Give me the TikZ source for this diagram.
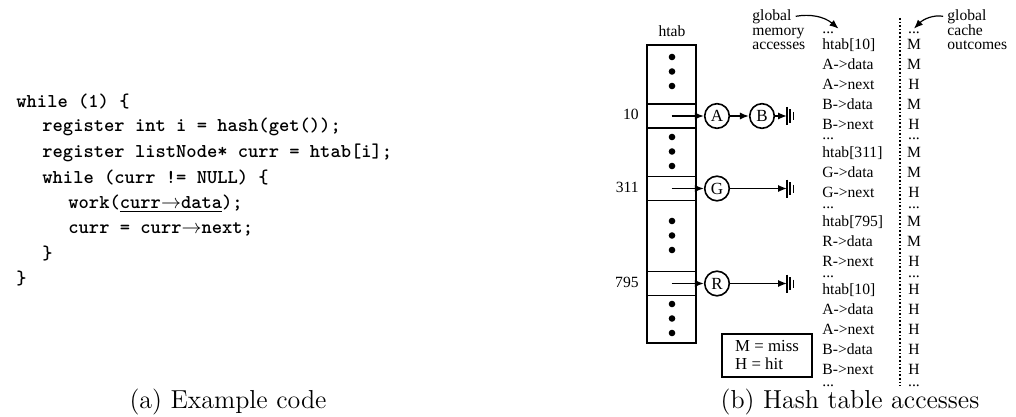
\documentclass[tikz,border=0pt]{standalone}
\usepackage{fontspec}
\newfontfamily\timesfont{Liberation Serif}
\usetikzlibrary{arrows.meta}
\newcommand\codefont{\ttfamily\bfseries\fontsize{9.8}{12}\selectfont}

\begin{document}
\begin{tikzpicture}[
    x=0.5pt, y=-0.5pt,
    >={Latex[length=4.5pt,width=3.6pt]},
    code/.style={anchor=base west,inner sep=0pt,font=\codefont},
    lbl/.style={inner sep=0pt,text height=5.3pt,text depth=1.5pt,
                font=\timesfont\fontsize{7.8}{7.8}\selectfont},
    cell/.style={draw,line width=0.8pt,minimum width=24.5pt,
                 minimum height=12pt,inner sep=0pt},
    elem/.style={circle,draw,line width=0.8pt,minimum size=12.3pt,
                 inner sep=0pt,font=\timesfont\fontsize{8.5}{8.5}\selectfont},
    ptr/.style={->,line width=0.8pt},
    nilbar/.pic={
      \draw[line width=0.8pt] (0,-9) -- (0,9);
      \draw[line width=0.6pt] (3,-6.5) -- (3,6.5);
      \draw[line width=0.5pt] (6,-4) -- (6,4);
    },
  ]
    \useasboundingbox (0,0) rectangle (1016,417);

    % Code listing
    \node[code] (ln1) at (16,107) {while (1) \{};
    \node[code] (ln2) at (42,132) {register int i = hash(get());};
    \node[code] (ln3) at (42,157) {register listNode* curr = htab[i];};
    \node[code] (ln4) at (42,183) {while (curr != NULL) \{};
    \node[code] (ln5) at (68,208) {work(\underline{curr$\rightarrow$data});};
    \node[code] (ln6) at (68,233) {curr = curr$\rightarrow$next;};
    \node[code] (ln7) at (42,259) {\}};
    \node[code] (ln8) at (16,284) {\}};

    % Hash table
    \node[lbl] (htablbl) at (672,33) {htab};
    \node[cell,minimum height=149pt] (tab) at (671.5,194) {};
    \node[cell] (row10)  at (671.5,116)   {};
    \node[cell] (row311) at (671.5,188.5) {};
    \node[cell] (row795) at (671.5,283.5) {};
    \foreach \y in {57,71.5,86,137,151.5,166,221,235.5,250,304,318.5,333}
      \fill (672,\y) circle (1.65pt);

    % Bucket indices
    \node[lbl,anchor=east] (idx10)  at (639,116)   {10};
    \node[lbl,anchor=east] (idx311) at (639,188.5) {311};
    \node[lbl,anchor=east] (idx795) at (639,283.5) {795};

    % Chains
    \node[elem] (A) at (717,116)   {A};
    \node[elem] (B) at (762,116)   {B};
    \node[elem] (G) at (717,188.5) {G};
    \node[elem] (R) at (717,283.5) {R};
    \coordinate (nilB) at (787,116);
    \coordinate (nilG) at (787,188.5);
    \coordinate (nilR) at (787,283.5);

    \draw[ptr] (row10.center) -- (A);
    \draw[ptr] (A) -- (B);
    \draw[ptr] (B) -- (nilB);
    \draw[ptr] (row311.center) -- (G);
    \draw[ptr] (G) -- (nilG);
    \draw[ptr] (row795.center) -- (R);
    \draw[ptr] (R) -- (nilR);
    \foreach \n in {nilB,nilG,nilR}
      \pic at (\n) {nilbar};

    % Access trace and cache outcomes
    \foreach \y/\acc/\res [count=\i] in {
        46/htab[10]/M, 66/A->data/M, 86/A->next/H, 106/B->data/M, 126/B->next/H,
        154/htab[311]/M, 174/G->data/M, 194/G->next/H,
        223/htab[795]/M, 243/R->data/M, 263/R->next/H,
        291/htab[10]/H, 311/A->data/H, 331/A->next/H, 351/B->data/H, 371/B->next/H}{
      \node[lbl,anchor=west] (acc\i) at (822,\y) {\acc};
      \node[lbl] (res\i) at (914,\y) {\res};
    }
    \foreach \y [count=\i] in {34,140,208,277,386}{
      \node[lbl,anchor=base west,text height=1.5pt,text depth=0pt] (accdots\i) at (822,\y) {...};
      \node[lbl,anchor=base,text height=1.5pt,text depth=0pt] (resdots\i) at (914,\y) {...};
    }
    \draw[densely dotted,line width=0.8pt] (900,18) -- (900,386);

    % Column headings
    \node[lbl,anchor=west] (memg) at (752,17) {global};
    \node[lbl,anchor=west] (memm) at (752,32) {memory};
    \node[lbl,anchor=west] (mema) at (752,46) {accesses};
    \node[lbl,anchor=west] (cacheg) at (947,17) {global};
    \node[lbl,anchor=west] (cachec) at (947,32) {cache};
    \node[lbl,anchor=west] (cacheo) at (947,46) {outcomes};
    \draw[ptr,line width=0.6pt,shorten <=2pt] (memg.east) to[out=10,in=140] ([xshift=2pt,yshift=1pt]accdots1.north east);
    \draw[ptr,line width=0.6pt,shorten <=2pt] (cacheg.west) to[out=170,in=45] ([yshift=1pt]resdots1.north);

    % Legend
    \node[draw,line width=0.6pt,align=left,minimum width=45pt,minimum height=21.5pt,
          font=\timesfont\fontsize{8.4}{9}\selectfont] (legend) at (767,355.5)
          {M = miss\\H = hit};

    % Captions
    \node[font=\fontsize{13}{15}\selectfont] (capa) at (228,402) {(a) Example code};
    \node[font=\fontsize{13}{15}\selectfont] (capb) at (850,402) {(b) Hash table accesses};

\end{tikzpicture}
\end{document}
